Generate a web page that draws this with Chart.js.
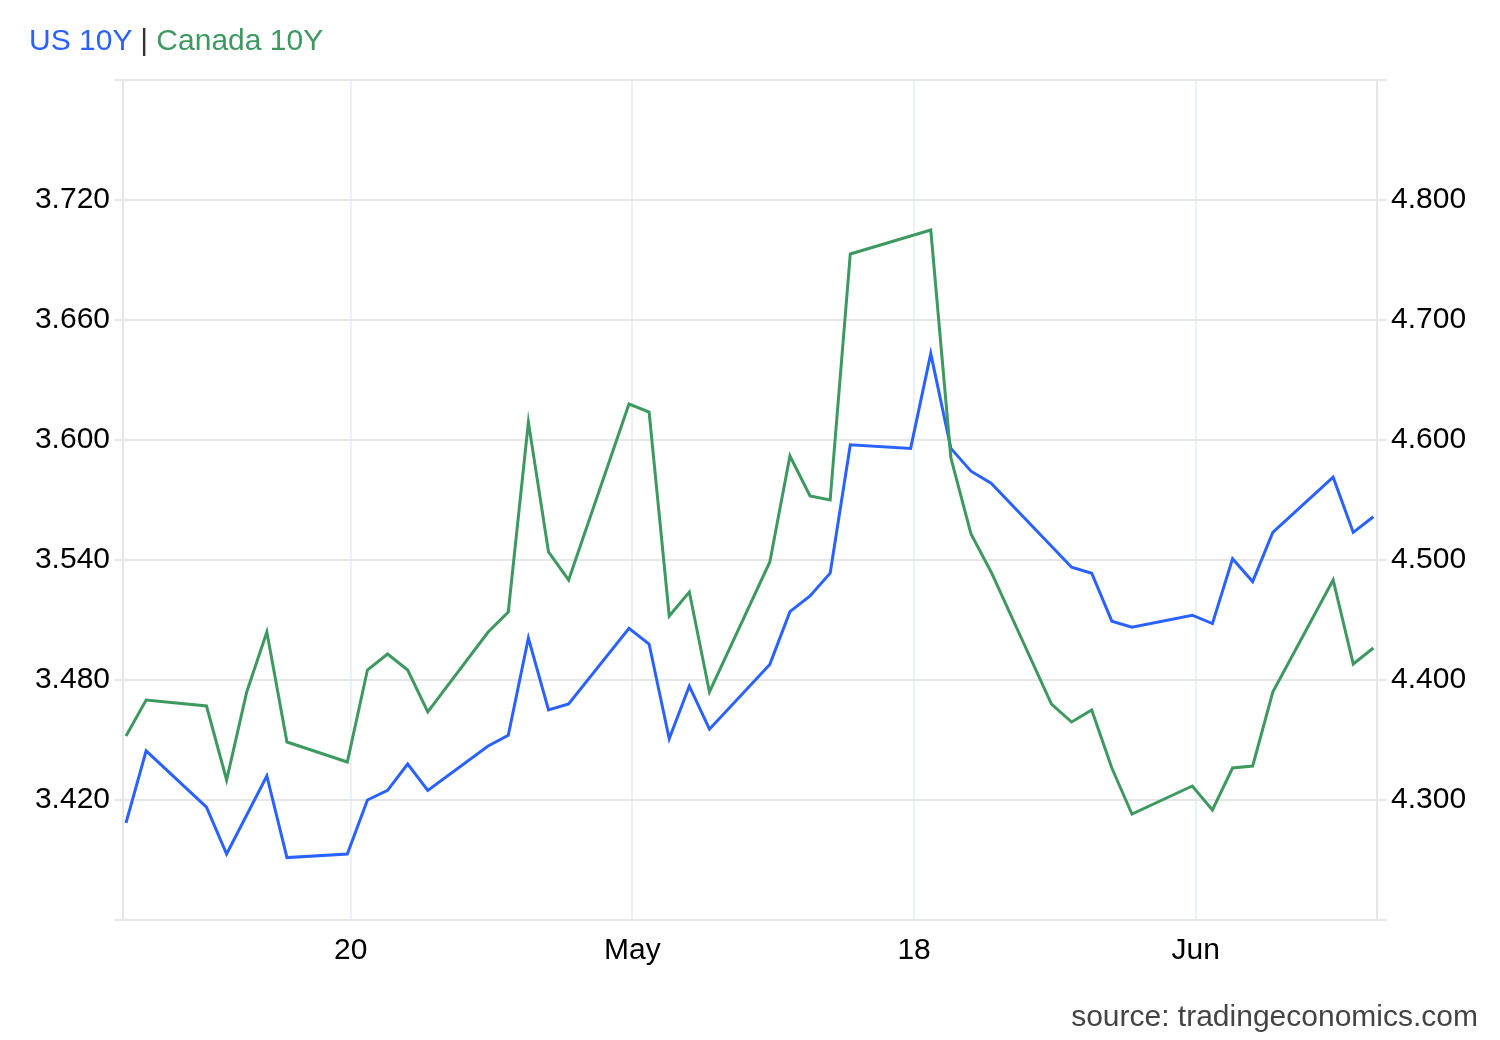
<!DOCTYPE html>
<html>
<head>
<meta charset="utf-8">
<script src="https://cdn.jsdelivr.net/npm/chart.js@4.4.1/dist/chart.umd.min.js"></script>
<style>
  html, body { margin: 0; padding: 0; background: #fff; }
  #wrap { position: relative; width: 1500px; height: 1040px; font-family: "Liberation Sans", Arial, sans-serif; }
  #chart { position: absolute; left: 0; top: 0; }
  #legend { position: absolute; left: 29px; top: 25px; font-size: 30px; line-height: 30px; white-space: nowrap; }
  #legend .us { color: #2962ff; }
  #legend .ca { color: #3d9960; }
  #legend .sep { color: #333; }
  #source { position: absolute; right: 22px; top: 1001px; font-size: 30px; line-height: 30px; color: #444; white-space: nowrap; }
</style>
</head>
<body>
<div id="wrap">
  <canvas id="chart" width="1500" height="1040"></canvas>
  <div id="legend"><span class="us">US 10Y</span> <span class="sep">|</span> <span class="ca">Canada 10Y</span></div>
  <div id="source">source: tradingeconomics.com</div>
</div>
<script>
// ---- data ----
const dates = [
  '2026-04-09','2026-04-10','2026-04-13','2026-04-14','2026-04-15','2026-04-16','2026-04-17',
  '2026-04-20','2026-04-21','2026-04-22','2026-04-23','2026-04-24',
  '2026-04-27','2026-04-28','2026-04-29','2026-04-30','2026-05-01',
  '2026-05-04','2026-05-05','2026-05-06','2026-05-07','2026-05-08',
  '2026-05-11','2026-05-12','2026-05-13','2026-05-14','2026-05-15',
  '2026-05-18','2026-05-19','2026-05-20','2026-05-21','2026-05-22',
  '2026-05-25','2026-05-26','2026-05-27','2026-05-28','2026-05-29',
  '2026-06-01','2026-06-02','2026-06-03','2026-06-04','2026-06-05',
  '2026-06-08','2026-06-09','2026-06-10'
];
// US 10Y (right axis)
const us10y = [
  4.281, 4.341, 4.294, 4.255, null, 4.320, 4.252,
  4.255, 4.300, 4.308, 4.330, 4.308,
  4.345, 4.354, 4.435, 4.375, 4.380,
  4.443, 4.430, 4.351, 4.395, 4.359,
  4.413, 4.457, 4.470, 4.489, 4.596,
  4.593, 4.672, 4.593, 4.574, 4.564,
  null, 4.494, 4.489, 4.449, 4.444,
  4.454, 4.447, 4.501, 4.482, 4.523,
  4.569, 4.523, 4.536
];
// Canada 10Y (left axis)
const canada10y = [
  3.452, 3.470, 3.467, 3.430, 3.474, 3.504, 3.449,
  3.439, 3.485, 3.493, 3.485, 3.464,
  3.504, 3.514, 3.609, 3.544, 3.530,
  3.618, 3.614, 3.512, 3.524, 3.474,
  3.539, 3.592, 3.572, 3.570, 3.693,
  null, 3.705, 3.591, 3.553, 3.534,
  3.468, 3.459, 3.465, 3.436, 3.413,
  3.427, 3.415, 3.436, 3.437, 3.474,
  3.530, 3.488, 3.496
];
const xTickDates = ['2026-04-20','2026-05-04','2026-05-18','2026-06-01'];
const xTickLabels = ['20','May','18','Jun'];
const leftTicks = [3.360, 3.420, 3.480, 3.540, 3.600, 3.660, 3.720, 3.780];
const leftLabels = [3.420, 3.480, 3.540, 3.600, 3.660, 3.720];
const rightTicks = [4.200, 4.300, 4.400, 4.500, 4.600, 4.700, 4.800, 4.900];
const rightLabels = [4.300, 4.400, 4.500, 4.600, 4.700, 4.800];

// ---- helpers ----
const day0 = Date.UTC(2026, 3, 9);
function dayOf(s) {
  const p = s.split('-').map(Number);
  return (Date.UTC(p[0], p[1] - 1, p[2]) - day0) / 86400000;
}
const TICK_SHIFT = 0.17; // ticks fall at local midnight, points slightly before
const usPoints = dates.map((d, i) => ({ x: dayOf(d), y: us10y[i] }));
const caPoints = dates.map((d, i) => ({ x: dayOf(d), y: canada10y[i] }));

const FONT = { family: '"Liberation Sans", Arial, sans-serif', size: 30 };
const GRID = '#e6e6e6';

new Chart(document.getElementById('chart'), {
  type: 'line',
  data: {
    datasets: [
      { label: 'Canada 10Y', data: caPoints, yAxisID: 'yL', borderColor: '#3d9960',
        borderWidth: 3, pointRadius: 0, tension: 0, spanGaps: true, fill: false },
      { label: 'US 10Y', data: usPoints, yAxisID: 'yR', borderColor: '#2962ff',
        borderWidth: 3, pointRadius: 0, tension: 0, spanGaps: true, fill: false }
    ]
  },
  options: {
    responsive: false,
    animation: false,
    devicePixelRatio: 1,
    layout: { padding: { top: 80, left: 0, right: 0, bottom: 0 } },
    plugins: { legend: { display: false }, tooltip: { enabled: false } },
    scales: {
      x: {
        type: 'linear',
        min: -0.15,
        max: 62.18,
        afterFit: s => { s.height = 120; },
        afterBuildTicks: s => { s.ticks = xTickDates.map(d => ({ value: dayOf(d) + TICK_SHIFT })); },
        ticks: {
          autoSkip: false, maxRotation: 0, padding: 13, color: '#000', font: FONT,
          callback: (v, i) => xTickLabels[i]
        },
        grid: { color: '#edf0f4', lineWidth: 2, drawTicks: false },
        border: { display: true, color: GRID, width: 2 }
      },
      yL: {
        type: 'linear', position: 'left',
        min: leftTicks[0], max: leftTicks[leftTicks.length - 1],
        afterFit: s => { s.width = 123; },
        afterBuildTicks: s => { s.ticks = leftTicks.map(v => ({ value: v })); },
        ticks: {
          padding: 4, color: '#000', font: FONT,
          callback: v => leftLabels.some(l => Math.abs(l - v) < 1e-6) ? v.toFixed(3) : ''
        },
        grid: { color: GRID, lineWidth: 2, tickLength: 9 },
        border: { display: true, color: GRID, width: 2 }
      },
      yR: {
        type: 'linear', position: 'right',
        min: rightTicks[0], max: rightTicks[rightTicks.length - 1],
        afterFit: s => { s.width = 123; },
        afterBuildTicks: s => { s.ticks = rightTicks.map(v => ({ value: v })); },
        ticks: {
          padding: 5, color: '#000', font: FONT,
          callback: v => rightLabels.some(l => Math.abs(l - v) < 1e-6) ? v.toFixed(3) : ''
        },
        grid: { color: GRID, lineWidth: 2, tickLength: 9, drawOnChartArea: false },
        border: { display: true, color: GRID, width: 2 }
      }
    }
  }
});
</script>
</body>
</html>
